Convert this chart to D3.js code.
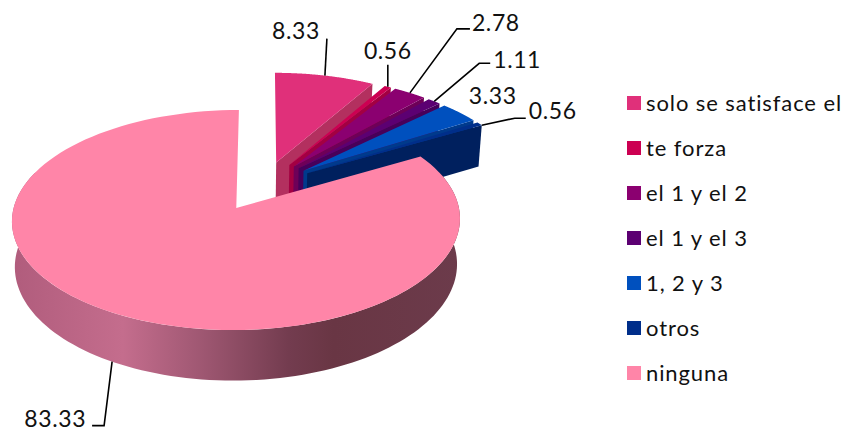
<!DOCTYPE html>
<html><head><meta charset="utf-8">
<script src="https://cdn.jsdelivr.net/npm/d3@7/dist/d3.min.js"></script>
<style>html,body{margin:0;padding:0;background:#fff}svg{display:block}text{font-family:Lato,"Noto Sans",sans-serif;fill:#111}</style>
</head><body><svg id="c" width="846" height="428"></svg>
<script>
const categories = ["solo se satisface el","te forza","el 1 y el 2","el 1 y el 3","1, 2 y 3","otros","ninguna"];
const values = [8.33,0.56,2.78,1.11,3.33,0.56,83.33];
const topColors = ["#E0307A","#CC0052","#8B0070","#5C0072","#0050BE","#002E8A","#FF85A8"];
const cutColors = ["#B3305F","#A30042","#6E0058","#47005A","#003A8C","#00205E","#B0607F"];
// leader geometry: elbow and end relative to the rim anchor; null = no leader
const leaderOffsets = [[[2,-37]],[[0,-22]],[[47,-64],[60,-64]],[[45,-38],[56,-38]],null,[[33,-7],[44,-7]],[[-8,64],[-20,64]]];
const labelOffsets = [[-5,-37],[0,-28],[62,-62],[59,-33],[33,-9],[47,-6],[-26,65]];
const labelAnchor = ["end","middle","start","start","middle","start","end"];

const W=846,H=428, cx=263, cy=185.9, Rx=217.7, Ry=103.9, persp=.107, explode=.24, depth=44, baseShrink=.987, baseCx=235;
const svg=d3.select("#c");
const pie=d3.pie().sort(null).startAngle(0).endAngle(2*Math.PI)(values);
const line=d3.line();
const rad=Math.PI/180;

function project(a,r,mid,low){
  const u=explode*Math.sin(mid)+r*Math.sin(a), w=-explode*Math.cos(mid)-r*Math.cos(a);
  const f=1/(1-persp*w);
  let x=cx+Rx*u*f, y=cy+Ry*w*f;
  if(low){ x=baseCx+(x-baseCx)*baseShrink; y+=depth*f; }
  return [x,y];
}
const arcPts=(s,e,mid,low)=>d3.range(0,121).map(i=>project(s+(e-s)*i/120,1,mid,low));

const defs=svg.append("defs");
const grad=defs.append("linearGradient").attr("id","rim").attr("gradientUnits","userSpaceOnUse")
  .attr("x1",11).attr("x2",459).attr("y1",0).attr("y2",0);
[[0,"#B05C7C"],[.25,"#C46D8D"],[.42,"#A05873"],[.62,"#733C4F"],[.72,"#693644"],[1,"#6C3B4B"]]
  .forEach(([o,c])=>grad.append("stop").attr("offset",o).attr("stop-color",c));

const g=svg.append("g");
pie.forEach((d,i)=>{
  const mid=(d.startAngle+d.endAngle)/2, last=i===pie.length-1;
  const tip=project(0,0,mid), tipLow=project(0,0,mid,true);
  if(last){
    const top=arcPts(70*rad,290*rad,mid), low=arcPts(70*rad,290*rad,mid,true);
    g.append("path").attr("d",line(top.concat(low.reverse()))+"Z").attr("fill","url(#rim)");
  } else {
    const rimT=project(d.endAngle,1,mid), rimL=project(d.endAngle,1,mid,true);
    g.append("path").attr("d",line([tip,rimT,rimL,tipLow])+"Z").attr("fill",cutColors[i]);
  }
  g.append("path").attr("d",line([tip].concat(arcPts(d.startAngle,d.endAngle,mid)))+"Z").attr("fill",topColors[i]);
});

// leaders and labels
pie.forEach((d,i)=>{
  const mid=(d.startAngle+d.endAngle)/2, last=i===pie.length-1;
  let a=project(mid,1,mid);
  if(last) a=project(mid,1,mid,true);
  if(i===5) a=project(d.endAngle,1,mid);
  if(leaderOffsets[i]){
    const pts=[a].concat(leaderOffsets[i].map(o=>[a[0]+o[0],a[1]+o[1]]));
    svg.append("path").attr("d",line(pts)).attr("fill","none").attr("stroke","#000").attr("stroke-width",1.6);
  }
  svg.append("text").attr("x",a[0]+labelOffsets[i][0]).attr("y",a[1]+labelOffsets[i][1])
    .attr("text-anchor",labelAnchor[i]).attr("font-size",23).attr("letter-spacing",.6).text(values[i].toFixed(2));
});

// legend
const ly=d3.scalePoint().domain(categories).range([103,373]);
const leg=svg.append("g");
categories.forEach((c,i)=>{
  leg.append("rect").attr("x",627).attr("y",ly(c)-7).attr("width",14).attr("height",14).attr("fill",topColors[i]);
  leg.append("text").attr("x",646).attr("y",ly(c)+8).attr("font-size",22).attr("letter-spacing",.9).text(c);
});
</script></body></html>
